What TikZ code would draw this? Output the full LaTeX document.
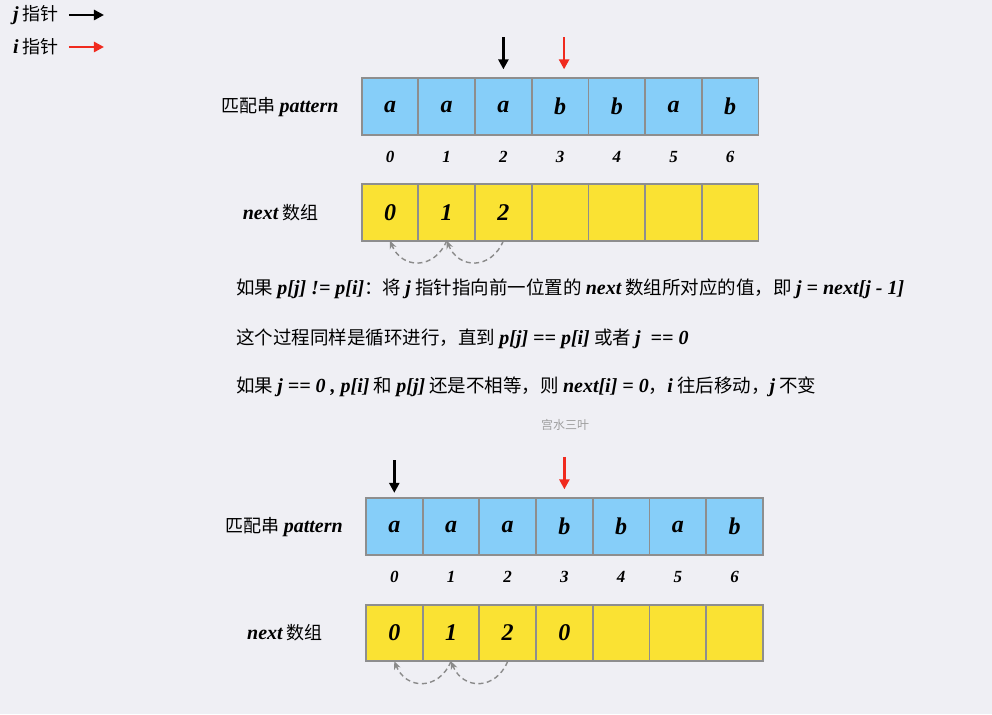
\documentclass[tikz,border=0pt]{standalone}
\usepackage{fontspec}
\setmainfont{Noto Sans CJK SC}
\newfontfamily\latnfont{Liberation Serif}
\newcommand{\latn}[1]{{\latnfont\fontsize{20}{20}\selectfont\bfseries\itshape #1}}
\usetikzlibrary{arrows.meta,positioning}
\definecolor{PageGray}{HTML}{EFEFF4}
\definecolor{CellBlue}{HTML}{86CEF9}
\definecolor{CellYellow}{HTML}{FAE233}
\definecolor{EdgeGray}{HTML}{8E8E8E}
\definecolor{PtrRed}{HTML}{F02A1E}
\definecolor{BackGray}{HTML}{8A8A8A}

\begin{document}
\begin{tikzpicture}[
  x=1pt,y=1pt,
  pcell/.style={fill=CellBlue,minimum size=56.7pt,inner sep=0pt,outer sep=0pt,font=\fontsize{24}{24}\latnfont\bfseries\itshape},
  ncell/.style={pcell,fill=CellYellow},
  edge/.style={draw=EdgeGray,line width=1.8pt},
  idx/.style={font=\fontsize{17}{17}\latnfont\bfseries\itshape,inner sep=0pt},
  lbl/.style={font=\fontsize{18}{18}\selectfont,inner sep=0pt},
  txt/.style={font=\fontsize{18.5}{18.5}\selectfont,inner sep=0pt,anchor=west},
  jptr/.style={-{Triangle[length=10pt,width=10pt]},line width=2.6pt,draw=black},
  iptr/.style={jptr,draw=PtrRed},
  back/.style={-{Stealth[length=8pt,width=7pt]},dash pattern=on 5pt off 3.5pt,line width=1.4pt,draw=BackGray}
]
\fill[PageGray] (0,0) rectangle (992,714);
\useasboundingbox (0,0) rectangle (992,714);

% legend
\node[lbl,anchor=west] (jkey) at (13,699) {\latn{j} 指针};
\node[lbl,anchor=west] (ikey) at (13,667) {\latn{i} 指针};
\draw[jptr] ([xshift=10pt]jkey.east) -- ([xshift=45pt]jkey.east);
\draw[iptr] ([xshift=10pt]ikey.east) -- ([xshift=45pt]ikey.east);

% upper state
\node[pcell] (tp0) at (390,607.3) {a};
\foreach \ch [count=\i] in {a,a,b,b,a,b}{
  \pgfmathtruncatemacro\prev{\i-1}
  \node[pcell,right=0pt of tp\prev] (tp\i) {\ch};
}
\node[ncell] (tn0) at (390,501.6) {0};
\foreach \v [count=\i] in {1,2,{},{},{},{}}{
  \pgfmathtruncatemacro\prev{\i-1}
  \node[ncell,right=0pt of tn\prev] (tn\i) {\v};
}
\foreach \i in {0,...,6}{
  \draw[edge] (tp\i.north west) rectangle (tp\i.south east);
  \draw[edge] (tn\i.north west) rectangle (tn\i.south east);
  \node[idx] (ti\i) at ([yshift=-21.7pt]tp\i.south) {\i};
}
\node[lbl,left=23pt of tp0] (tplab) {匹配串 \latn{pattern}};
\node[lbl,left=43pt of tn0] (tnlab) {\latn{next} 数组};
\draw[jptr] ([yshift=41pt]tp2.north) -- ([yshift=9pt]tp2.north);
\draw[iptr] ([xshift=4pt,yshift=41pt]tp3.north) -- ([xshift=4pt,yshift=9pt]tp3.north);
\draw[back] (tn2.south) .. controls +(-12,-29) and +(12,-29) .. (tn1.south);
\draw[back] (tn1.south) .. controls +(-12,-29) and +(12,-29) .. (tn0.south);

% explanation
\node[txt] (line1) at (236,425) {如果 \latn{p[j] != p[i]}：将 \latn{j} 指针指向前一位置的 \latn{next} 数组所对应的值，即 \latn{j = next[j - 1]}};
\node[txt] (line2) at (236,375) {这个过程同样是循环进行，直到 \latn{p[j] == p[i]} 或者 \latn{j \ == 0}};
\node[txt] (line3) at (236,327) {如果 \latn{j == 0 , p[i]} 和 \latn{p[j]} 还是不相等，则 \latn{next[i] = 0}，\latn{i} 往后移动，\latn{j} 不变};
\node[font=\fontsize{12}{12}\selectfont,text=gray!75] (mark) at (565,289) {宫水三叶};

% lower state
\node[pcell] (bp0) at (394.3,187.3) {a};
\foreach \ch [count=\i] in {a,a,b,b,a,b}{
  \pgfmathtruncatemacro\prev{\i-1}
  \node[pcell,right=0pt of bp\prev] (bp\i) {\ch};
}
\node[ncell] (bn0) at (394.3,81) {0};
\foreach \v [count=\i] in {1,2,0,{},{},{}}{
  \pgfmathtruncatemacro\prev{\i-1}
  \node[ncell,right=0pt of bn\prev] (bn\i) {\v};
}
\foreach \i in {0,...,6}{
  \draw[edge] (bp\i.north west) rectangle (bp\i.south east);
  \draw[edge] (bn\i.north west) rectangle (bn\i.south east);
  \node[idx] (bi\i) at ([yshift=-21.7pt]bp\i.south) {\i};
}
\node[lbl,left=23pt of bp0] (bplab) {匹配串 \latn{pattern}};
\node[lbl,left=43pt of bn0] (bnlab) {\latn{next} 数组};
\draw[jptr] ([yshift=38pt]bp0.north) -- ([yshift=5.5pt]bp0.north);
\draw[iptr] ([yshift=41.5pt]bp3.north) -- ([yshift=9pt]bp3.north);
\draw[back] (bn2.south) .. controls +(-12,-29) and +(12,-29) .. (bn1.south);
\draw[back] (bn1.south) .. controls +(-12,-29) and +(12,-29) .. (bn0.south);
\end{tikzpicture}
\end{document}
